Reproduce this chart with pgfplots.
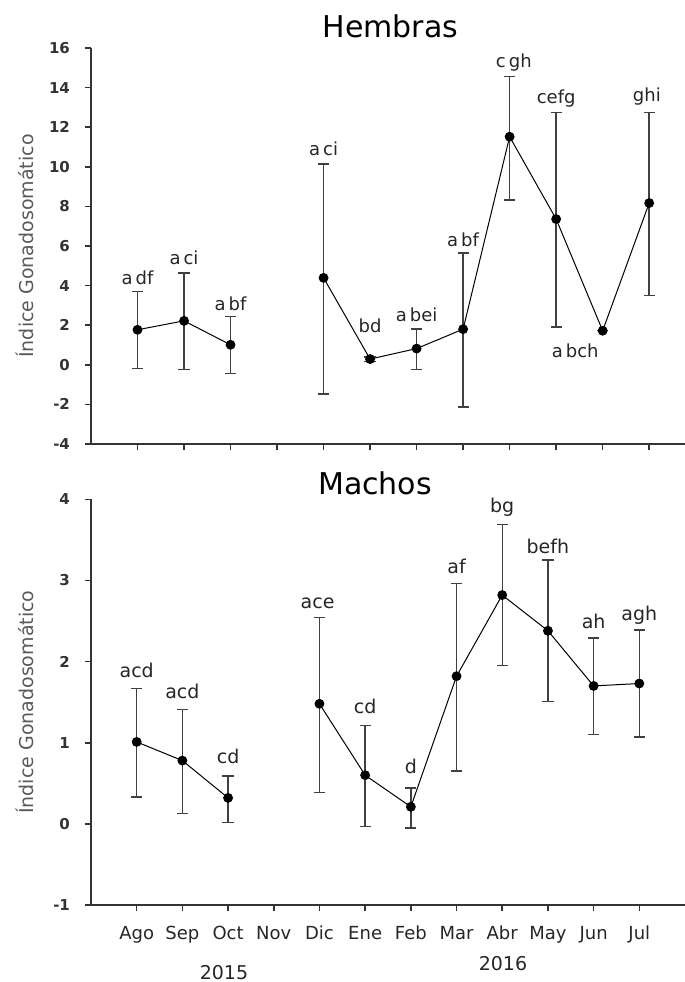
\documentclass[border=0pt]{standalone}
\usepackage{fontspec}
\setmainfont{DejaVu Sans}
\usepackage{pgfplots}
\pgfplotsset{compat=1.18}
\usepackage{pgfplotstable}

% mean, error plus, error minus (Nov has no sample)
\pgfplotstableread{
x  y     ep    em
1  1.77  1.93  1.97
2  2.22  2.42  2.47
3  1.01  1.43  1.46
4  nan   0     0
5  4.39  5.75  5.87
6  0.29  0.10  0.12
7  0.82  0.98  1.07
8  1.80  3.84  3.94
9  11.52 3.04  3.19
10 7.36  5.38  5.46
11 1.72  0     0
12 8.17  4.57  4.67
}\hembras

\pgfplotstableread{
x  y     ep    em
1  1.01  0.66  0.68
2  0.78  0.63  0.65
3  0.32  0.27  0.30
4  nan   0     0
5  1.48  1.06  1.09
6  0.60  0.61  0.63
7  0.21  0.23  0.26
8  1.82  1.14  1.17
9  2.82  0.87  0.87
10 2.38  0.87  0.87
11 1.70  0.59  0.60
12 1.73  0.66  0.66
}\machos

\pgfplotsset{
  gsi/.style={
    scale only axis, width=297pt,
    axis lines=left, axis line style={-, line width=0.8pt, black!80},
    tick align=outside, major tick length=3pt,
    tick style={line width=0.8pt, black!80},
    xmin=0, xtick={1,...,12},
    enlargelimits=false, clip=false,
    /pgf/number format/assume math mode=true,
    yticklabel style={font=\fontsize{7.5}{8}\selectfont\bfseries, text=black!80, xshift=-4pt},
    ylabel={Índice Gonadosomático},
    ylabel style={at={(axis description cs:-0.111,0.5)}, anchor=center,
      font=\fontsize{9.5}{11}\selectfont, text=black!65},
  },
  serie/.style={
    black, line width=0.5pt, mark=*, mark size=2.2pt, unbounded coords=jump,
    error bars/.cd, y dir=both, y explicit,
    error bar style={line width=0.7pt, black!75},
    error mark options={rotate=90, mark size=2.8pt, line width=0.7pt, black!75},
  },
}
\tikzset{lbl/.style={anchor=base, text=black!85}}

\begin{document}
\begin{tikzpicture}
\useasboundingbox (0,0) rectangle (342.5pt,-491pt);

\begin{axis}[gsi, at={(45.5pt,-222pt)}, anchor=south west,
  height=198pt, xmax=12.77, ymin=-4, ymax=16, ytick={-4,-2,...,16},
  yticklabels={-4,-2,0,2,4,6,8,10,12,14,16},
  xticklabels={}]
\addplot[serie] table[x=x, y=y, y error plus=ep, y error minus=em] {\hembras};
\begin{scope}[every node/.style={lbl, font=\fontsize{9}{10}\selectfont}]
\node at (axis cs:1,4.04) {a\,df};
\node at (axis cs:2,5.09) {a\,ci};
\node at (axis cs:3,2.73) {a\,bf};
\node at (axis cs:5,10.59) {a\,ci};
\node at (axis cs:6,1.63) {bd};
\node at (axis cs:7,2.19) {a\,bei};
\node at (axis cs:8,6.0) {a\,bf};
\node at (axis cs:9.09,15.0) {c\,gh};
\node at (axis cs:10,13.2) {cefg};
\node at (axis cs:10.41,0.35) {a\,bch};
\node at (axis cs:11.95,13.3) {ghi};
\end{scope}
\end{axis}

\begin{axis}[gsi, at={(45.5pt,-452.5pt)}, anchor=south west,
  height=202.85pt, xmax=13, ymin=-1, ymax=4, ytick={-1,0,...,4},
  yticklabels={-1,0,1,2,3,4},
  xticklabels={Ago,Sep,Oct,Nov,Dic,Ene,Feb,Mar,Abr,May,Jun,Jul},
  xticklabel style={font=\fontsize{9}{10}\selectfont, text=black!85, anchor=base, yshift=-14pt}]
\addplot[serie] table[x=x, y=y, y error plus=ep, y error minus=em] {\machos};
\begin{scope}[every node/.style={lbl, font=\fontsize{9.5}{11}\selectfont}]
\node at (axis cs:1,1.80) {acd};
\node at (axis cs:2,1.54) {acd};
\node at (axis cs:3,0.75) {cd};
\node at (axis cs:4.96,2.65) {ace};
\node at (axis cs:6,1.36) {cd};
\node at (axis cs:7,0.625) {d};
\node at (axis cs:8,3.08) {af};
\node at (axis cs:9,3.84) {bg};
\node at (axis cs:10,3.33) {befh};
\node at (axis cs:11,2.41) {ah};
\node at (axis cs:12,2.51) {agh};
\end{scope}
\end{axis}

\node[font=\fontsize{15}{17}\selectfont] at (195.25pt,-13pt) {Hembras};
\node[font=\fontsize{15}{17}\selectfont] at (187.5pt,-241.5pt) {Machos};
\node[font=\fontsize{9.5}{11}\selectfont, text=black!85] at (112pt,-486.5pt) {2015};
\node[font=\fontsize{9.5}{11}\selectfont, text=black!85] at (251.5pt,-482pt) {2016};
\end{tikzpicture}
\end{document}
